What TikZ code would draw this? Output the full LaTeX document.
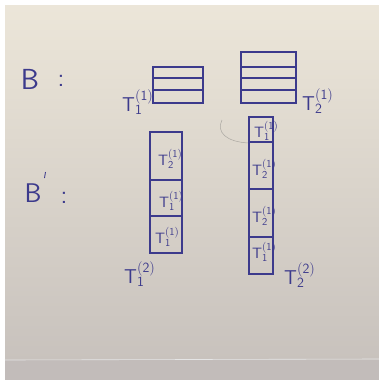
\documentclass[tikz,border=0pt]{standalone}
\usepackage{fontspec}
\begin{document}
\begin{tikzpicture}[x=1pt,y=-1pt,
  ink/.style={draw=inkc, line width=1.1pt},
  biglab/.style={text=inkc, inner sep=0pt, anchor=base west, font=\fontsize{20}{24}\selectfont},
  celllab/.style={text=inkc, inner sep=0pt, anchor=base west, font=\fontsize{15}{18}\selectfont},
  hand/.style={text=inkc, inner sep=0pt, font=\fontsize{29}{32}\sffamily},
  colonmark/.style={text=inkc, inner sep=0pt, font=\fontsize{26}{30}\sffamily}]
\definecolor{inkc}{HTML}{3C3A8C}
\definecolor{paperTop}{HTML}{ECE6D9}
\definecolor{paperMid}{HTML}{E4DFD2}
\definecolor{paperLow}{HTML}{C8C2BD}
\definecolor{stripc}{HTML}{C2BCBA}
\definecolor{creasec}{HTML}{ABA8A2}
\newcommand{\Tlab}[2]{\(\mathsf{T}_{\mathsf{#1}}^{\mathsf{(#2)}}\)}

\useasboundingbox (0,0) rectangle (379,380);
% sheet of paper on a light backdrop
\fill[white] (0,0) rectangle (379,380);
\shade[top color=paperTop, middle color=paperMid, bottom color=paperLow] (5,5) rectangle (379,360);
\fill[stripc] (5,360) rectangle (379,380);
\draw[white!80!gray, line width=0.6pt] (5,360) -- (379,359);

% faint crease
\draw[creasec, line width=0.5pt] (222,120) .. controls (216,132) and (226,142) .. (249,143);

% row labels
\node[hand] (B) at (30,79) {B};
\node[colonmark] (Bc) at (61,81) {:};
\node[hand, font=\fontsize{27}{30}\sffamily] (Bp) at (33,193) {B};
\draw[inkc, line width=0.9pt] (45.5,172) -- (44.5,178);
\node[colonmark] (Bpc) at (64,198) {:};

% B: the two stacks of slots
\draw[ink] (153,67) rectangle (203,103);
\draw[ink] (153,78) -- (203,78);
\draw[ink] (153,90) -- (203,90);
\draw[ink] (241,52) rectangle (296,103);
\draw[ink] (241,67) -- (296,67);
\draw[ink] (241,78) -- (296,78);
\draw[ink] (241,90) -- (296,90);
\node[biglab] (t11) at (122,111) {\Tlab{1}{1}};
\node[biglab] (t21) at (302,110) {\Tlab{2}{1}};

% B': first column
\draw[ink] (150,132) rectangle (182,253);
\draw[ink] (150,180) -- (182,180);
\draw[ink] (150,216) -- (182,216);
\node[celllab] (c1a) at (158,165) {\Tlab{2}{1}};
\node[celllab] (c1b) at (159,207) {\Tlab{1}{1}};
\node[celllab] (c1c) at (155,243) {\Tlab{1}{1}};
\node[biglab] (t12) at (124,283) {\Tlab{1}{2}};

% B': second column
\draw[ink] (249,117) rectangle (273,274);
\draw[ink] (249,142) -- (273,142);
\draw[ink] (249,189) -- (273,189);
\draw[ink] (249,237) -- (273,237);
\node[celllab] (c2a) at (254,137) {\Tlab{1}{1}};
\node[celllab] (c2b) at (252,175) {\Tlab{2}{1}};
\node[celllab] (c2c) at (252,222) {\Tlab{2}{1}};
\node[celllab] (c2d) at (252,258) {\Tlab{1}{1}};
\node[biglab] (t22) at (284,284) {\Tlab{2}{2}};
\end{tikzpicture}
\end{document}
